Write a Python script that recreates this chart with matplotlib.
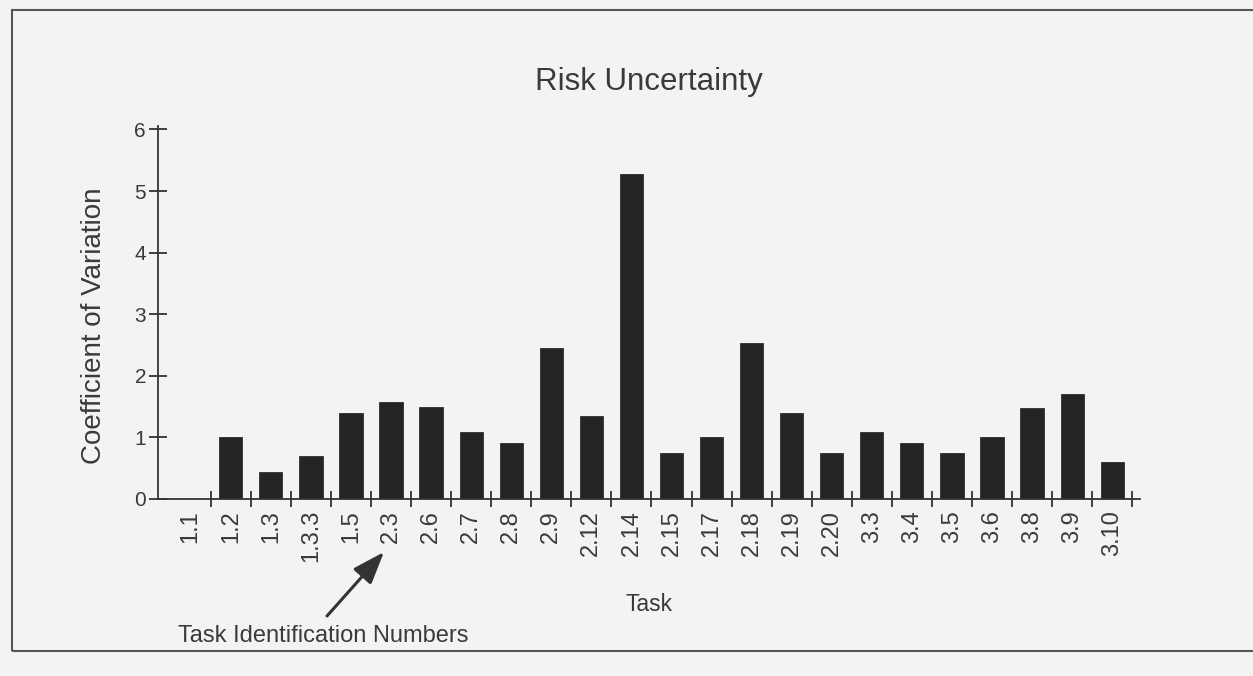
import numpy as np
import matplotlib.pyplot as plt
from matplotlib.patches import Rectangle

# Task identification numbers and their coefficient of variation
tasks = ["1.1", "1.2", "1.3", "1.3.3", "1.5", "2.3", "2.6", "2.7", "2.8", "2.9",
         "2.12", "2.14", "2.15", "2.17", "2.18", "2.19", "2.20", "3.3", "3.4",
         "3.5", "3.6", "3.8", "3.9", "3.10"]
cov = [0.0, 1.0, 0.43, 0.69, 1.40, 1.57, 1.49, 1.09, 0.91, 2.45,
       1.35, 5.28, 0.74, 1.0, 2.54, 1.40, 0.74, 1.09, 0.91,
       0.74, 1.0, 1.48, 1.70, 0.60]
y_ticks = [0, 1, 2, 3, 4, 5, 6]

plt.rcParams['font.family'] = ['Liberation Sans', 'DejaVu Sans']
text_color = "#3a3a3a"
bg = "#f3f3f1"
W, H = 1253, 676

fig = plt.figure(figsize=(W / 100, H / 100), dpi=100, facecolor=bg)
ax = fig.add_axes([0.126, 0.262, 0.784, 0.551])
ax.set_facecolor(bg)

x = np.arange(len(tasks))
ax.bar(x, cov, width=0.58, color="#242424", edgecolor="#1a1a1a", linewidth=0.5)

ax.set_xlim(-0.82, len(tasks) - 0.3)
ax.set_ylim(0, 6.05)

# Labels at the bar centres, cross-shaped ticks between the bars
ax.set_xticks(x)
ax.set_xticklabels(tasks, rotation=90, fontsize=17, color=text_color)
ax.tick_params(axis="x", which="major", length=0, pad=8)
ax.set_xticks(x + 0.5, minor=True)
ax.tick_params(axis="x", which="minor", direction="inout", length=11,
               width=1.3, color="#333333")

ax.set_yticks(y_ticks)
ax.set_yticklabels([str(v) for v in y_ticks], fontsize=15, color=text_color)
ax.tick_params(axis="y", direction="inout", length=13, width=1.3,
               color="#333333", pad=2)

for side in ["top", "right"]:
    ax.spines[side].set_visible(False)
for side in ["left", "bottom"]:
    ax.spines[side].set_linewidth(1.3)
    ax.spines[side].set_color("#333333")

ax.set_title("Risk Uncertainty", fontsize=22.5, color=text_color, pad=26)
ax.set_ylabel("Coefficient of Variation", fontsize=20, color=text_color)
ax.yaxis.set_label_coords(-0.052, 0.464)
ax.set_xlabel("Task", fontsize=16.5, color=text_color, labelpad=22)

# Callout pointing at one of the tick labels
fig.text(178 / W, 1 - 636 / H, "Task Identification Numbers",
         fontsize=17, color=text_color, va="center", ha="left")
ax.annotate("", xy=(384 / W, 1 - 552 / H), xycoords="figure fraction",
            xytext=(327 / W, 1 - 616 / H), textcoords="figure fraction",
            arrowprops=dict(arrowstyle="-|>,head_length=0.9,head_width=0.33",
                            color="#333333", lw=2.2, mutation_scale=22,
                            shrinkA=0, shrinkB=0))

# Frame around the figure
fig.patches.append(Rectangle((12 / W, 1 - 651 / H), 1.2, 641 / H,
                             transform=fig.transFigure, fill=False,
                             edgecolor="#555555", linewidth=1.5))

fig.savefig("out.png", dpi=100, facecolor=bg)
